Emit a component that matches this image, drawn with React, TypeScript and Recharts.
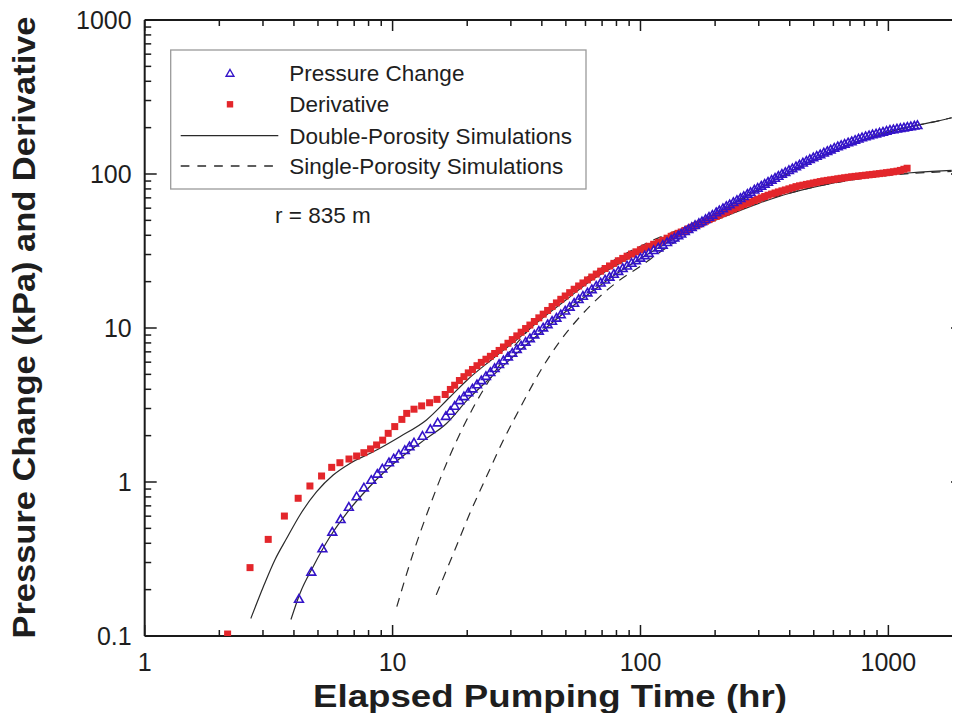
import React from 'react';
import { ComposedChart, Scatter, Line, XAxis, YAxis, Customized } from 'recharts';

// ---------- data ----------
const pressureTimes = [
  4.19, 4.70, 5.21, 5.71, 6.17, 6.66, 7.16, 7.66, 8.20, 8.68, 9.09, 9.67, 10.1, 10.6, 11.2, 11.7, 12.2, 13.2, 14.2, 15.2, 16.4,
  17.1, 17.8, 18.6, 19.4, 20.2, 21.0, 21.9, 22.8, 23.8, 24.8, 25.8, 26.9, 28.0, 29.2, 30.4, 31.7, 33.0, 34.4, 35.8, 37.3,
  38.9, 40.5, 42.2, 44.0, 45.8, 47.7, 49.7, 51.8, 54.0, 56.3, 58.6, 61.1, 63.6, 66.3, 69.1, 72.0, 75.0, 78.1, 81.4, 84.8,
  88.3, 92.0, 95.9, 99.9, 104, 108, 113, 118, 123, 128, 133,
  137, 142, 146, 151, 156, 161, 166, 172, 177, 183, 189, 195, 202, 208, 215, 222, 229, 237, 245, 253,
  261, 270, 278, 288, 297, 307, 317, 327, 338, 349, 360, 372, 384, 397, 410, 424, 438, 452, 467, 482,
  498, 514, 531, 549, 567, 585, 605, 625, 645, 666, 688, 711, 734, 758, 783, 809, 836, 863, 892, 921,
  951, 983, 1015, 1048, 1083, 1118, 1155, 1193, 1232, 1273, 1310,
];
const pressureValues = [
  0.174, 0.261, 0.37, 0.475, 0.573, 0.689, 0.805, 0.92, 1.03, 1.13, 1.22, 1.34, 1.42, 1.51, 1.61, 1.70, 1.80, 1.99, 2.20, 2.43, 2.68,
  2.89, 3.12, 3.39, 3.60, 3.82, 4.04, 4.30, 4.57, 4.87, 5.17, 5.48, 5.82, 6.16, 6.52, 6.88, 7.28, 7.68, 8.13, 8.57, 9.06,
  9.58, 10.06, 10.57, 11.11, 11.65, 12.24, 12.96, 13.72, 14.53, 15.38, 16.16, 16.99, 17.83, 18.74, 19.68, 20.57, 21.49, 22.44, 23.44, 24.44,
  25.40, 26.42, 27.52, 28.56, 29.62, 30.67, 31.98, 33.28, 34.66, 36.07, 37.49,
  38.6, 39.9, 41.0, 42.5, 43.8, 45.2, 46.5, 47.9, 49.2, 50.9, 52.6, 54.3, 56.4, 58.0, 59.9, 61.9, 63.5, 65.6, 67.7, 69.8,
  71.7, 74.3, 76.3, 79.0, 81.2, 83.8, 86.3, 88.8, 91.6, 94.3, 97.1, 100.0, 102.8, 105.9, 108.8, 112.0, 115.1, 118.3, 121.7, 125.0,
  128.0, 131.0, 134.2, 137.5, 140.9, 144.1, 147.8, 151.2, 154.0, 157.0, 160.1, 163.0, 166.2, 169.4, 172.7, 175.7, 178.1, 180.5, 183.0, 185.5,
  188.0, 190.6, 193.2, 194.9, 196.7, 198.4, 200.2, 202.1, 203.9, 205.8, 207.5,
];

const derivativeTimes = [
  2.16, 2.66, 3.15, 3.66, 4.16, 4.64, 5.17, 5.68, 6.13, 6.67, 7.16, 7.66, 8.15, 8.62, 9.12, 9.60, 10.2, 10.9, 11.4, 12.2,
  13.1, 14.1, 15.1, 16.3,
  17.1, 17.8, 18.6, 19.4, 20.2, 21.0, 21.9, 22.8, 23.8, 24.8, 25.8, 26.9, 28.0, 29.2, 30.4, 31.7, 33.0, 34.4, 35.8, 37.3,
  38.9, 40.5, 42.2, 44.0, 45.8, 47.7, 49.7, 51.8, 54.0, 56.3, 58.6, 61.1, 63.6, 66.3, 69.1, 72.0, 75.0, 78.1, 81.4, 84.8,
  88.3, 92.0, 95.9, 99.9, 104, 108, 113, 118, 123, 128, 133,
  137, 142, 146, 151, 156, 161, 166, 172, 177, 183, 189, 195, 202, 208, 215, 222, 229, 237, 245, 253,
  261, 270, 278, 288, 297, 307, 317, 327, 338, 349, 360, 372, 384, 397, 410, 424, 438, 452, 467, 482,
  498, 514, 531, 549, 567, 585, 605, 625, 645, 666, 688, 711, 734, 758, 783, 809, 836, 863, 892, 921,
  951, 983, 1015, 1048, 1083, 1118, 1155, 1190,
];
const derivativeValues = [
  0.103, 0.278, 0.424, 0.601, 0.784, 0.942, 1.094, 1.245, 1.334, 1.41, 1.475, 1.55, 1.64, 1.74, 1.87, 2.07, 2.29, 2.55, 2.79, 2.97,
  3.12, 3.27, 3.44, 3.70,
  3.99, 4.25, 4.56, 4.83, 5.11, 5.38, 5.69, 5.98, 6.27, 6.55, 6.83, 7.15, 7.53, 7.96, 8.41, 8.89, 9.39, 9.92, 10.45, 11.02,
  11.64, 12.30, 13.0, 13.78, 14.55, 15.36, 16.14, 16.96, 17.85, 18.75, 19.61, 20.52, 21.43, 22.40, 23.39, 24.34, 25.29, 26.28, 27.33, 28.31,
  29.25, 30.22, 31.24, 32.2, 33.09, 33.93, 34.96, 35.99, 37.1, 38.3, 39.4,
  40.2, 41.2, 42.0, 43.0, 44.0, 45.1, 46.1, 47.2, 48.2, 49.4, 50.6, 51.7, 53.0, 54.1, 55.3, 56.5, 57.8, 59.2, 60.5, 61.9,
  63.3, 64.6, 65.8, 67.3, 68.6, 70.0, 71.4, 72.8, 74.1, 75.3, 76.5, 77.7, 78.8, 80.1, 81.4, 82.8, 83.8, 84.6, 85.6, 86.4,
  87.4, 88.3, 89.3, 90.2, 90.9, 91.6, 92.3, 93.1, 93.8, 94.5, 95.2, 95.9, 96.5, 97.0, 97.6, 98.2, 98.8, 99.4, 100.0, 100.6,
  101.3, 102.0, 102.7, 103.4, 104.3, 105.5, 107.3, 109.0,
];

// double-porosity simulations (solid)
const dpPressureTimes = [3.89, 4.23, 4.78, 5.59, 6.52, 7.85, 9.46, 11.4, 13.7, 16.5, 20, 25, 32, 40, 50, 63, 80, 100, 130, 170, 220, 300, 400, 550, 700, 900, 1100, 1300, 1500, 1800];
const dpPressureValues = [0.128, 0.189, 0.282, 0.441, 0.626, 0.887, 1.20, 1.54, 1.92, 2.40, 3.40, 4.80, 6.95, 9.50, 12.8, 17.0, 22.5, 28.3, 36.3, 46.5, 60.0, 80.0, 103, 133, 156, 179, 195, 207, 217, 232];
const dpDerivativeTimes = [2.68, 3.01, 3.35, 3.74, 4.23, 4.94, 5.76, 6.73, 8.35, 10.7, 13.7, 17.0, 20, 25, 32, 40, 50, 63, 80, 100, 130, 170, 220, 300, 400, 550, 700, 900, 1200, 1500, 1800];
const dpDerivativeValues = [0.130, 0.209, 0.312, 0.431, 0.611, 0.865, 1.11, 1.32, 1.57, 1.97, 2.53, 3.55, 4.60, 6.20, 8.50, 11.5, 15.2, 20.3, 25.6, 31.0, 37.8, 44.8, 53.2, 64.5, 75.0, 85.0, 91.5, 97.0, 101.5, 104.0, 105.5];

// single-porosity simulations (dashed)
const spPressureTimes = [15.0, 17.6, 20.5, 23.9, 27.9, 32.6, 39.3, 47.3, 56.9, 68.5, 82.5, 99.3, 119.6, 150, 200, 300, 400, 550, 700, 900, 1100, 1300, 1500, 1800];
const spPressureValues = [0.185, 0.344, 0.626, 1.08, 1.85, 3.0, 5.2, 8.2, 11.8, 16.0, 20.5, 25.0, 31.0, 39.5, 53.0, 78.5, 101.5, 132, 155, 178, 194, 206.5, 216.5, 232];
const spDerivativeTimes = [10.4, 12.1, 14.1, 16.5, 19.3, 23.2, 28.8, 35.8, 44.4, 56.9, 77.5, 105.7, 140, 200, 300, 450, 700, 1000, 1400, 1800];
const spDerivativeValues = [0.155, 0.344, 0.691, 1.32, 2.29, 3.95, 6.6, 9.9, 14.0, 19.6, 27.3, 35.5, 43, 53.5, 66, 79, 91, 98, 102, 104];

// ticks
const xMajorTicks = [1, 10, 100, 1000];
const xMinorTicks = [2, 3, 4, 5, 6, 7, 8, 9, 20, 30, 40, 50, 60, 70, 80, 90, 200, 300, 400, 500, 600, 700, 800, 900];
const yMajorTicks = [0.1, 1, 10, 100, 1000];
const yMinorTicks = [0.2, 0.3, 0.4, 0.5, 0.6, 0.7, 0.8, 0.9, 2, 3, 4, 5, 6, 7, 8, 9, 20, 30, 40, 50, 60, 70, 80, 90, 200, 300, 400, 500, 600, 700, 800, 900];
const xDomain = [1, 2000];
const yDomain = [0.1, 1000];

const legendLabels = ['Pressure Change', 'Derivative', 'Double-Porosity Simulations', 'Single-Porosity Simulations'];
const annotation = 'r = 835 m';
const xTitle = 'Elapsed Pumping Time (hr)';
const yTitle = 'Pressure Change (kPa) and Derivative';

// ---------- styling ----------
const FONT = '"Liberation Sans", Arial, Helvetica, sans-serif';
const AXIS = '#1a1a1a';
const TEXT = '#1e1e1e';
const BLUE = '#3414c8';
const RED = '#e3262b';
const LINE = '#2a2a2a';
const DASH = '9 7';

const zip = (ts: number[], vs: number[]) => ts.map((t, i) => ({ t, v: vs[i] }));
const pressureData = zip(pressureTimes, pressureValues);
const derivativeData = zip(derivativeTimes, derivativeValues);
const dpPressure = zip(dpPressureTimes, dpPressureValues);
const dpDerivative = zip(dpDerivativeTimes, dpDerivativeValues);
const spPressure = zip(spPressureTimes, spPressureValues);
const spDerivative = zip(spDerivativeTimes, spDerivativeValues);

const xTicks = [...xMajorTicks, ...xMinorTicks].sort((a, b) => a - b);
const yTicks = [...yMajorTicks, ...yMinorTicks].sort((a, b) => a - b);

const Triangle = (p: any) => {
  const { cx, cy } = p;
  if (cx == null || cy == null) return <g />;
  return (
    <path
      d={`M${cx},${cy - 4.3} L${cx + 4.4},${cy + 3.3} L${cx - 4.4},${cy + 3.3} Z`}
      fill="none"
      stroke={BLUE}
      strokeWidth={1.6}
    />
  );
};

const Square = (p: any) => {
  const { cx, cy } = p;
  if (cx == null || cy == null) return <g />;
  return <rect x={cx - 3.5} y={cy - 3.5} width={7} height={7} fill={RED} />;
};

const BottomTick = (p: any) => {
  const v = p.payload.value;
  const major = xMajorTicks.includes(v);
  return (
    <g>
      <line x1={p.x} x2={p.x} y1={p.y} y2={p.y - (major ? 11 : 6)} stroke={AXIS} strokeWidth={1.5} />
      {major ? (
        <text x={p.x} y={p.y + 35} textAnchor="middle" fontSize={25} fontFamily={FONT} fill={TEXT}>
          {String(v)}
        </text>
      ) : null}
    </g>
  );
};

const TopTick = (p: any) => {
  const v = p.payload.value;
  const major = xMajorTicks.includes(v);
  return <line x1={p.x} x2={p.x} y1={p.y} y2={p.y + (major ? 11 : 6)} stroke={AXIS} strokeWidth={1.5} />;
};

const LeftTick = (p: any) => {
  const v = p.payload.value;
  const major = yMajorTicks.includes(v);
  return (
    <g>
      <line x1={p.x} x2={p.x + (major ? 12 : 6.5)} y1={p.y} y2={p.y} stroke={AXIS} strokeWidth={1.5} />
      {major ? (
        <text x={p.x - 13} y={p.y + 9} textAnchor="end" fontSize={25} fontFamily={FONT} fill={TEXT}>
          {String(v)}
        </text>
      ) : null}
    </g>
  );
};

const RightTick = (p: any) => {
  const v = p.payload.value;
  const major = yMajorTicks.includes(v);
  return <line x1={p.x} x2={p.x - (major ? 12 : 6.5)} y1={p.y} y2={p.y} stroke={AXIS} strokeWidth={1.5} />;
};

const Overlay = () => {
  const rowY = [73.3, 104.3, 135.7, 166];
  return (
    <g fontFamily={FONT}>
      <rect x={170.7} y={50} width={415.3} height={139} fill="#fff" stroke="#9a9a9a" strokeWidth={1.3} />
      <path
        d={`M230,${rowY[0] - 3.8} L233.9,${rowY[0] + 2.9} L226.1,${rowY[0] + 2.9} Z`}
        fill="none"
        stroke={BLUE}
        strokeWidth={1.4}
      />
      <rect x={226.8} y={rowY[1] - 3.2} width={6.4} height={6.4} fill={RED} />
      <line x1={180.7} x2={278.3} y1={rowY[2]} y2={rowY[2]} stroke={LINE} strokeWidth={1.3} />
      <line x1={180.7} x2={280} y1={rowY[3]} y2={rowY[3]} stroke={LINE} strokeWidth={1.3} strokeDasharray="8.7 8" />
      {legendLabels.map((s, i) => (
        <text key={s} x={289.3} y={rowY[i] + 8} fontSize={22.5} fill={TEXT}>
          {s}
        </text>
      ))}
      <text x={275} y={223} fontSize={22.5} fill={TEXT}>
        {annotation}
      </text>
      <text
        x={550}
        y={706.5}
        textAnchor="middle"
        fontSize={31}
        fontWeight="bold"
        fill={TEXT}
        textLength={474}
        lengthAdjust="spacingAndGlyphs"
      >
        {xTitle}
      </text>
      <text
        transform="translate(35, 327.5) rotate(-90)"
        textAnchor="middle"
        fontSize={32}
        fontWeight="bold"
        fill={TEXT}
        textLength={622}
        lengthAdjust="spacingAndGlyphs"
      >
        {yTitle}
      </text>
    </g>
  );
};

export default function App() {
  return (
    <div
      style={{
        width: 960,
        height: 721,
        overflow: 'hidden',
        marginLeft: -8,
        marginTop: -8,
        marginBottom: -8,
        background: '#fff',
      }}
    >
      <ComposedChart width={978} height={721} margin={{ top: 19, right: 14, bottom: 0, left: 0 }}>
        <XAxis
          xAxisId={0}
          dataKey="t"
          type="number"
          scale="log"
          domain={xDomain}
          allowDataOverflow
          ticks={xTicks}
          interval={0}
          tick={BottomTick}
          tickLine={false}
          tickSize={0}
          tickMargin={0}
          height={85}
          axisLine={{ stroke: AXIS, strokeWidth: 2 }}
        />
        <XAxis
          xAxisId="top"
          orientation="top"
          dataKey="t"
          type="number"
          scale="log"
          domain={xDomain}
          allowDataOverflow
          ticks={xTicks}
          interval={0}
          tick={TopTick}
          tickLine={false}
          tickSize={0}
          tickMargin={0}
          height={1}
          axisLine={{ stroke: AXIS, strokeWidth: 2 }}
        />
        <YAxis
          yAxisId={0}
          dataKey="v"
          type="number"
          scale="log"
          domain={yDomain}
          allowDataOverflow
          ticks={yTicks}
          interval={0}
          tick={LeftTick}
          tickLine={false}
          tickSize={0}
          tickMargin={0}
          width={144.7}
          axisLine={{ stroke: AXIS, strokeWidth: 2 }}
        />
        <YAxis
          yAxisId="right"
          orientation="right"
          dataKey="v"
          type="number"
          scale="log"
          domain={yDomain}
          allowDataOverflow
          ticks={yTicks}
          interval={0}
          tick={RightTick}
          tickLine={false}
          tickSize={0}
          tickMargin={0}
          width={1}
          axisLine={{ stroke: AXIS, strokeWidth: 2 }}
        />
        <Scatter name="Derivative" data={derivativeData} dataKey="v" shape={Square} isAnimationActive={false} />
        <Scatter name="Pressure Change" data={pressureData} dataKey="v" shape={Triangle} isAnimationActive={false} />
        <Line data={dpPressure} dataKey="v" type="monotone" stroke={LINE} strokeWidth={1.2} dot={false} activeDot={false} isAnimationActive={false} />
        <Line data={dpDerivative} dataKey="v" type="monotone" stroke={LINE} strokeWidth={1.2} dot={false} activeDot={false} isAnimationActive={false} />
        <Line data={spPressure} dataKey="v" type="monotone" stroke={LINE} strokeWidth={1.2} strokeDasharray={DASH} dot={false} activeDot={false} isAnimationActive={false} />
        <Line data={spDerivative} dataKey="v" type="monotone" stroke={LINE} strokeWidth={1.2} strokeDasharray={DASH} dot={false} activeDot={false} isAnimationActive={false} />
        <Customized component={Overlay} />
      </ComposedChart>
    </div>
  );
}
